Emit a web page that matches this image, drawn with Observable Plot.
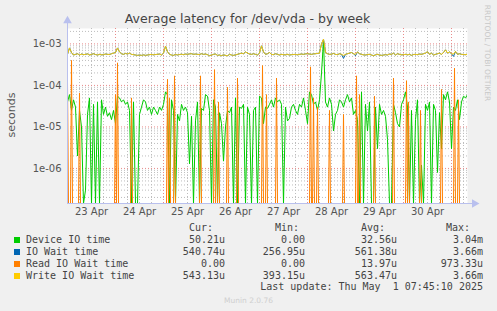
<!DOCTYPE html>
<html>
<head>
<meta charset="utf-8">
<script src="https://cdn.jsdelivr.net/npm/d3@7"></script>
<script src="https://cdn.jsdelivr.net/npm/@observablehq/plot@0.6"></script>
<style>
  html, body { margin: 0; padding: 0; background: #F0F0F0; }
  #wrap { position: relative; width: 497px; height: 311px; overflow: hidden; background: #F0F0F0; }
  #wrap svg { position: absolute; left: 0; top: 0; }
  .t { position: absolute; white-space: pre; line-height: 12px; }
  .mono { font-family: "DejaVu Sans Mono", monospace; font-size: 10px; color: #444; }
</style>
</head>
<body>
<div id="wrap"></div>
<script>
// ---------- DATA ----------
const titleText = "Average latency for /dev/vda - by week";
const yLabel = "seconds";
const yTicks = [1e-6, 1e-5, 1e-4, 1e-3];
const yTickLabels = ["1e-06", "1e-05", "1e-04", "1e-03"];
const xTickDates = ["2025-04-23T12:00Z","2025-04-24T12:00Z","2025-04-25T12:00Z","2025-04-26T12:00Z","2025-04-27T12:00Z","2025-04-28T12:00Z","2025-04-29T12:00Z","2025-04-30T12:00Z"];
const xTickLabels = ["23 Apr","24 Apr","25 Apr","26 Apr","27 Apr","28 Apr","29 Apr","30 Apr"];
const startTime = "2025-04-23T00:00Z"; // first sample
const endTime = "2025-05-01T08:00Z";

// Device IO time, hourly samples, microseconds (0 = zero)
const deviceIO = [
  40, 60, 25, 45, 30, 2, 25, 10, 0, 0.3,
  20, 50, 0, 35, 0, 40, 0, 45, 20, 30,
  18, 22, 15, 25, 12, 55, 50, 40, 45, 35,
  40, 25, 0, 40, 0, 0, 20, 30, 45, 40,
  25, 30, 20, 30, 25, 20, 30, 25, 35, 70,
  60, 0, 45, 25, 0, 20, 14, 35, 25, 30,
  22, 1.3, 18, 0, 14, 40, 0, 28, 25, 60,
  55, 25, 0, 45, 30, 0, 22, 12, 1.5, 10,
  25, 22, 30, 0, 50, 0, 30, 28, 35, 0,
  30, 20, 0, 25, 30, 0, 55, 50, 12, 30,
  28, 35, 45, 30, 50, 40, 45, 35, 0, 30,
  14, 16, 30, 35, 25, 20, 35, 30, 50, 25,
  12, 70, 60, 35, 40, 25, 45, 200, 1200, 40,
  30, 50, 35, 8, 20, 25, 45, 40, 30, 45,
  60, 40, 50, 20, 25, 15, 0, 70, 0, 35,
  8, 40, 0, 0, 30, 3, 35, 20, 25, 18,
  5, 0, 0, 35, 22, 12, 10, 35, 45, 70,
  30, 0, 25, 0, 15, 45, 0, 1.2, 0, 35,
  25, 40, 0, 35, 25, 0.8, 22, 3, 60, 45,
  70, 40, 3, 30, 25, 45, 15, 40, 55, 50,
  60
];

// Write IO Wait time, hourly samples, microseconds
const writeWait = [
  560, 800, 620, 540, 560, 580, 540, 570, 550, 560,
  575, 540, 560, 580, 555, 540, 560, 545, 550, 570,
  560, 555, 580, 600, 620, 800, 640, 580, 560, 590,
  570, 600, 560, 550, 540, 530, 540, 530, 545, 530,
  540, 550, 560, 545, 555, 560, 570, 540, 600, 880,
  650, 560, 540, 530, 560, 540, 555, 565, 550, 570,
  560, 575, 580, 560, 570, 560, 555, 580, 560, 570,
  550, 520, 540, 560, 570, 530, 540, 520, 545, 530,
  520, 560, 540, 530, 545, 560, 580, 600, 580, 640,
  600, 570, 560, 580, 560, 540, 600, 900, 640, 560,
  580, 620, 560, 550, 580, 560, 540, 560, 550, 545,
  560, 540, 550, 555, 560, 545, 560, 570, 560, 575,
  580, 570, 560, 575, 580, 590, 600, 1000, 1300, 620,
  580, 560, 565, 590, 560, 550, 580, 560, 530, 560,
  580, 600, 620, 580, 560, 640, 580, 560, 545, 540,
  555, 560, 540, 520, 545, 560, 540, 530, 540, 550,
  540, 570, 560, 600, 540, 580, 560, 545, 550, 560,
  545, 560, 530, 555, 560, 550, 570, 560, 580, 600,
  650, 560, 600, 540, 560, 580, 600, 560, 620, 720,
  600, 640, 580, 570, 660, 560, 580, 560, 555, 550,
  560
];

// IO Wait time: same as write wait except these hours [hour, microseconds]
const ioWaitDiffs = [[138, 450], [144, 520], [193, 500]];

// Read IO Wait time: zero except these spikes [half-hour index, microseconds]
const readSpikes = [
  [0,140],[4,400],[12,65],[48,60],[50,350],[64,50],[100,140],[102,50],[107,170],
  [133,170],[147,240],[151,40],[160,90],[170,150],[195,300],[199,60],[209,150],
  [243,280],[246,50],[250,30],[262,25],[276,20],[289,170],[292,60],[307,55],
  [326,150],[339,130],[341,40],[353,25],[374,80],[387,260],[391,45]
];

// legend
const seriesNames = ["Device IO time", "IO Wait time", "Read IO Wait time", "Write IO Wait time"];
const curVals = ["50.21u", "540.74u", "0.00", "543.13u"];
const minVals = ["0.00", "256.95u", "0.00", "393.15u"];
const avgVals = ["32.56u", "561.38u", "13.97u", "563.47u"];
const maxVals = ["3.04m", "3.66m", "973.33u", "3.66m"];
const colHeads = ["Cur:", "Min:", "Avg:", "Max:"];
const lastUpdate = "Last update: Thu May  1 07:45:10 2025";
const footer = "Munin 2.0.76";
const sideText = "RRDTOOL / TOBI OETIKER";

// ---------- STYLE ----------
const colors = ["#00CC00", "#0066B3", "#FF8000", "#FFCC00"];
const yMin = 1.43e-7, yMax = 2.35e-3;

// ---------- BUILD TABLES ----------
const t0 = new Date(startTime), t1 = new Date(endTime);
const HOUR = 3600e3;
const hourly = (arr) => arr.map((v, i) => ({t: new Date(+t0 + i * HOUR), v: v * 1e-6}));
const greenData = hourly(deviceIO);
const yellowData = hourly(writeWait);
const blueArr = writeWait.slice();
for (const [h, v] of ioWaitDiffs) blueArr[h] = v;
const blueData = hourly(blueArr);
const orangeArr = new Array(401).fill(0);
for (const [k, v] of readSpikes) orangeArr[k] = v;
const orangeData = orangeArr.map((v, i) => ({t: new Date(+t0 + i * HOUR / 2), v: v * 1e-6}));
const clampY = d => Math.max(d.v, yMin);

const minor = [];
for (const dec of [1e-7, 1e-6, 1e-5, 1e-4, 1e-3]) for (let k = 2; k <= 9; k++) { const v = k * dec; if (v > yMin && v < yMax) minor.push(v); }
const sixH = d3.utcHour.every(6).range(t0, t1).filter(d => d.getUTCHours() !== 0 && +d > +t0);
const midnights = d3.utcDay.range(new Date(+t0 + 1), t1);

const axisCol = "#b9c0ee";
const lineOpts = {x: "t", y: clampY, strokeWidth: 1, clip: true, curve: "linear"};

const chart = Plot.plot({
  width: 497, height: 311,
  marginLeft: 67, marginRight: 30, marginTop: 28, marginBottom: 108,
  x: {type: "utc", domain: [t0, t1], axis: null},
  y: {type: "log", domain: [yMin, yMax], axis: null},
  style: {background: "#F0F0F0", fontFamily: "DejaVu Sans", fontSize: "10px", color: "#555", overflow: "visible"},
  marks: [
    Plot.frame({fill: "white", stroke: null}),
    Plot.ruleY(minor, {stroke: "#bdbdbd", strokeDasharray: "1,2"}),
    Plot.ruleX(sixH, {stroke: "#bdbdbd", strokeDasharray: "1,2"}),
    Plot.ruleY(yTicks, {stroke: "#e88a8a", strokeDasharray: "1,2"}),
    Plot.ruleX(midnights, {stroke: "#e88a8a", strokeDasharray: "1,2"}),
    Plot.line(greenData, {...lineOpts, stroke: colors[0]}),
    Plot.line(blueData, {...lineOpts, stroke: colors[1]}),
    Plot.line(orangeData, {...lineOpts, stroke: colors[2]}),
    Plot.line(yellowData, {...lineOpts, stroke: colors[3]}),
    Plot.ruleX([t0], {y1: yMin, y2: 3.3e-3, stroke: axisCol}),
    Plot.ruleY([yMin], {x1: t0, x2: new Date(+t1 + 3 * HOUR), stroke: axisCol}),
    Plot.dot([t0], {x: d => d, y: () => 3.6e-3, symbol: "triangle", r: 3.2, fill: axisCol, stroke: null}),
    Plot.dot([t1], {x: d => new Date(+d + 3.5 * HOUR), y: () => yMin, symbol: "triangle", r: 3.2, rotate: 90, fill: axisCol, stroke: null}),
    Plot.text(yTicks, {y: d => d, frameAnchor: "left", dx: -6, textAnchor: "end", text: (d, i) => yTickLabels[i], fill: "#555", fontSize: 10}),
    Plot.text(xTickDates, {x: d => new Date(d), frameAnchor: "bottom", dy: 4, lineAnchor: "top", text: (d, i) => xTickLabels[i], fill: "#555", fontSize: 10})
  ]
});
const wrap = document.getElementById("wrap");
wrap.appendChild(chart);

function addText(txt, css, cls) {
  const el = document.createElement("div");
  el.className = "t" + (cls ? " " + cls : "");
  el.textContent = txt;
  Object.assign(el.style, css);
  wrap.appendChild(el);
  return el;
}
// title
addText(titleText, {left: "0px", width: "495px", textAlign: "center", top: "12px", fontFamily: "DejaVu Sans", fontSize: "12.5px", color: "#444", lineHeight: "14px"});
// y label
addText(yLabel, {left: "12px", top: "115px", fontFamily: "DejaVu Sans", fontSize: "11px", color: "#555", transform: "translate(-50%,-50%) rotate(-90deg)", lineHeight: "12px"});
// side text
addText(sideText, {left: "487px", top: "53px", fontFamily: "DejaVu Sans", fontSize: "7.5px", color: "#c8c8c8", transform: "translate(-50%,-50%) rotate(90deg)", lineHeight: "9px"});
// legend headers
const headRight = [213, 299, 385, 470];
colHeads.forEach((h, i) => addText(h, {right: (497 - headRight[i]) + "px", top: "222px"}, "mono"));
const rowY = [233.5, 245.5, 257.5, 269.5];
const valRight = [225, 305, 397, 483];
seriesNames.forEach((name, r) => {
  const sq = document.createElement("div");
  Object.assign(sq.style, {position: "absolute", left: "14px", top: (rowY[r] + 3) + "px", width: "6px", height: "6px", background: colors[r]});
  wrap.appendChild(sq);
  addText(name, {left: "26px", top: rowY[r] + "px"}, "mono");
  [curVals, minVals, avgVals, maxVals].forEach((col, c) => addText(col[r], {right: (497 - valRight[c]) + "px", top: rowY[r] + "px"}, "mono"));
});
addText(lastUpdate, {right: (497 - 483) + "px", top: "281px"}, "mono");
addText(footer, {left: "0px", width: "497px", textAlign: "center", top: "296px", fontFamily: "DejaVu Sans", fontSize: "7.5px", color: "#cfcfcf", lineHeight: "10px"});
</script>
</body>
</html>
